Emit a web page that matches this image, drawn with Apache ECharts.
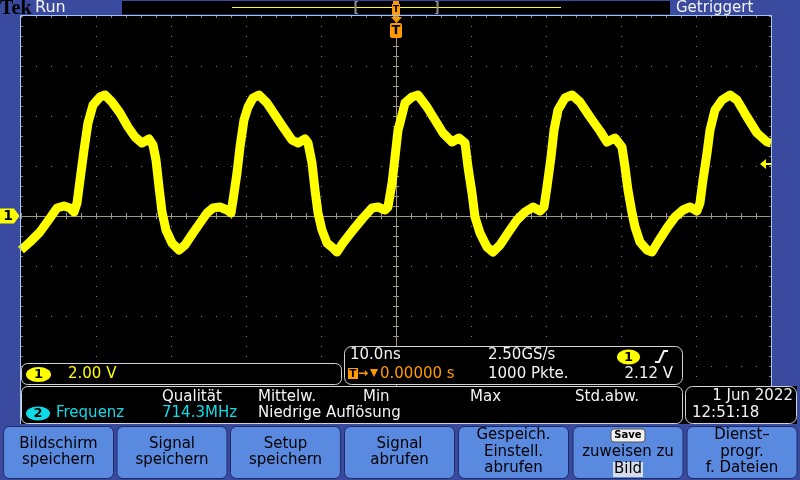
<!DOCTYPE html>
<html><head><meta charset="utf-8">
<script src="https://cdn.jsdelivr.net/npm/echarts@6/dist/echarts.min.js"></script>
<style>html,body{margin:0;padding:0;background:#3a4a9e;}#c{width:800px;height:480px;}</style>
</head><body><div id="c"></div>
<script>
const timeNs = [-50.0,-48.8,-47.47,-46.13,-45.2,-44.27,-43.47,-42.93,-42.53,-42.13,-41.6,-41.07,-40.4,-39.47,-38.8,-37.87,-36.8,-35.73,-34.8,-33.87,-32.93,-32.4,-32.0,-31.6,-31.2,-30.67,-29.87,-28.93,-28.13,-27.07,-26.13,
 -25.2,-24.4,-23.47,-22.53,-22.0,-21.73,-21.2,-20.8,-20.27,-19.73,-19.07,-18.27,-17.2,-16.13,-15.07,-13.87,-13.07,-12.13,-11.73,-11.2,-10.8,-10.4,-9.87,-9.2,-8.4,-7.87,-7.07,-5.73,-4.4,-3.2,-2.4,-1.47,-1.07,-0.53,-0.13,0.27,
 0.53,1.2,2.13,2.93,4.13,5.2,6.27,7.47,8.4,9.2,9.6,10.13,10.53,11.2,12.13,12.93,13.87,14.93,16.13,17.2,18.27,19.2,19.73,20.13,20.67,21.07,21.6,22.53,23.47,24.53,25.87,27.2,
 28.13,29.2,30.13,30.53,30.93,31.47,31.87,32.53,33.47,34.13,34.93,36.13,37.2,38.27,39.2,40.13,40.53,40.93,41.47,41.87,42.53,43.47,44.53,45.47,46.8,48.13,49.47,50.0];
const volts = [-1.36,-1.04,-0.64,-0.08,0.32,0.40,0.32,0.16,0.52,1.44,2.64,3.72,4.44,4.76,4.84,4.56,4.12,3.56,3.16,2.92,3.08,2.84,2.24,1.16,0.16,-0.56,-1.08,-1.36,-1.16,-0.68,-0.28,
 0.12,0.32,0.36,0.24,0.12,0.64,1.72,2.76,3.84,4.36,4.72,4.84,4.52,4.04,3.56,3.04,2.92,3.08,2.92,2.12,1.04,0.12,-0.56,-1.08,-1.28,-1.44,-1.08,-0.56,-0.08,0.32,0.36,0.24,0.36,1.32,2.36,3.44,
 3.72,4.52,4.76,4.84,4.36,3.84,3.32,2.96,3.12,2.92,1.96,0.92,-0.04,-0.68,-1.24,-1.44,-1.16,-0.68,-0.16,0.16,0.36,0.2,0.36,1.16,2.36,3.44,4.24,4.72,4.84,4.56,3.96,3.4,
 2.96,3.12,2.76,1.96,1.04,0.12,-0.44,-1.04,-1.36,-1.44,-1.04,-0.48,-0.04,0.24,0.36,0.2,0.52,1.44,2.52,3.44,4.24,4.64,4.84,4.64,3.96,3.32,2.96,2.92];
const xMin = -50, xMax = 50, xInterval = 10;   // 10.0 ns / div
const yMin = -8, yMax = 8, yInterval = 2;       // 2.00 V / div
const triggerLevel = 2.12;

const measHeaders = ["Qualität", "Mittelw.", "Min", "Max", "Std.abw."];
const buttonLabels = [["Bildschirm","speichern"],["Signal","speichern"],["Setup","speichern"],["Signal","abrufen"],["Gespeich.","Einstell.","abrufen"],["Save","zuweisen zu","Bild"],["Dienst–","progr.","f. Dateien"]];

// ---- styling ----
const BLUE = '#3a4a9e', BTN = '#5a89e0', LBLUE = '#a4c4fa', GRIDC = '#8a8270', CENTERC = '#a0977f';
const YEL = '#ffff00', ORG = '#ff9a00', CYAN = '#10dce8', WHITE = '#f4f4f4', PANEL = '#d4d4d4';
const F = (s, b) => (b ? 'bold ' : '') + s + 'px "DejaVu Sans"';

const G = [];
function rect(x, y, w, h, fill, stroke, r, lw) { G.push({type:'rect', z:10, shape:{x, y, width:w, height:h, r:r||0}, style:{fill:fill||null, stroke:stroke||null, lineWidth:lw||1}}); }
function txt(t, x, y, fill, font, align) { G.push({type:'text', z:10, style:{text:t, x, y, fill, font, textAlign:align||'left', textVerticalAlign:'middle'}}); }
function line(x1, y1, x2, y2, c, w) { G.push({type:'line', z:10, shape:{x1, y1, x2, y2}, style:{stroke:c, lineWidth:w||1}}); }
function poly(pts, fill) { G.push({type:'polygon', z:10, shape:{points:pts}, style:{fill}}); }
function ell(cx, cy, rx, ry, fill) { G.push({type:'ellipse', z:10, shape:{cx, cy, rx, ry}, style:{fill}}); }

// top bar
txt('Tek', 0, 8.5, '#000', 'bold 20px "Liberation Serif"');
txt('Run', 35, 8, WHITE, F(16));
rect(122, 1, 548, 13.5, '#000');
line(232, 7.5, 561, 7.5, YEL, 1.2);
line(355.5, 1, 355.5, 14, '#909090', 2); line(355, 1.5, 358, 1.5, '#909090', 1); line(355, 13.5, 358, 13.5, '#909090', 1);
line(437.5, 1, 437.5, 14, '#909090', 2); line(435, 1.5, 438, 1.5, '#909090', 1); line(435, 13.5, 438, 13.5, '#909090', 1);
rect(393, 1, 6, 4, ORG); rect(392, 4, 8, 11, ORG);
txt('T', 396, 10, '#000', F(9, true), 'center');
txt('Getriggert', 676, 8.5, WHITE, F(15));
// border of graticule
line(20.5, 15.5, 772, 15.5, LBLUE, 1);
line(20.5, 15.5, 20.5, 424, LBLUE, 1);
line(771.5, 15.5, 771.5, 386, LBLUE, 1);
// trigger position markers
poly([[391,17],[402,17],[396.5,23]], ORG);
rect(390, 23, 12, 15, ORG, null, 2);
txt('T', 396, 31, '#000', F(13, true), 'center');
// channel 1 ground marker
poly([[0,208.5],[14,208.5],[19.5,216],[14,223.5],[0,223.5]], YEL);
txt('1', 8, 216.5, '#000', F(14, true), 'center');
// trigger level arrow (right edge)
poly([[760,164],[766,159],[766,169]], YEL);
line(766, 164, 771, 164, YEL, 2);

// bottom panels
rect(21, 386, 776, 38, '#000');
rect(21.5, 363.5, 320, 21, '#000', PANEL, 6);
ell(38.5, 374.5, 12.5, 7.5, YEL); txt('1', 38.5, 375, '#000', F(13, true), 'center');
txt('2.00 V', 68, 374, YEL, F(15));
rect(344.5, 346.5, 338, 38, '#000', PANEL, 7);
txt('10.0ns', 350, 355.5, WHITE, F(15));
txt('2.50GS/s', 488, 355.5, WHITE, F(15));
ell(628.5, 357, 11.5, 7.5, YEL); txt('1', 628.5, 357.5, '#000', F(13, true), 'center');
G.push({type:'polyline', z:10, shape:{points:[[655,362],[659,362],[664,351],[668,351]]}, style:{stroke:WHITE, lineWidth:2, fill:null}});
rect(348, 368, 10, 11, ORG); txt('T', 353, 374, '#000', F(10, true), 'center');
txt('→', 358, 373.5, ORG, F(12, true));
poly([[370,369],[378,369],[374,377]], ORG);
txt('0.00000 s', 380, 374, ORG, F(15));
txt('1000 Pkte.', 488, 374, WHITE, F(15));
txt('2.12 V', 673, 374, WHITE, F(15), 'right');
rect(21.5, 386.5, 661, 37, '#000', PANEL, 6);
const measX = [162, 258, 363, 470, 575];
measHeaders.forEach((h, i) => txt(h, measX[i], 397, WHITE, F(15)));
ell(38, 413.5, 12, 7, CYAN); txt('2', 38, 414, '#000', F(13, true), 'center');
txt('Frequenz', 56, 413.5, CYAN, F(15));
txt('714.3MHz', 162, 413.5, CYAN, F(15));
txt('Niedrige Auflösung', 258, 413.5, WHITE, F(15));
rect(685.5, 386.5, 111, 37, '#000', PANEL, 7);
txt('1 Jun 2022', 793, 396.5, WHITE, F(15), 'right');
txt('12:51:18', 692, 413, WHITE, F(15));

// buttons
const btnX = [3, 116.5, 230, 344, 458, 572.5, 686.5];
buttonLabels.forEach((lab, i) => {
  const x = btnX[i], cx = x + 55.5;
  rect(x + 0.5, 426.5, 110, 52, BTN, '#1e2a66', 6);
  if (i === 5) {
    rect(cx - 17, 429, 34, 13, '#f0f0f0', '#555', 3);
    txt('Save', cx, 435.5, '#000', F(10, true), 'center');
    txt('zuweisen zu', cx, 452, '#000', F(15), 'center');
    rect(cx - 15, 462, 30, 15, '#d6dcea');
    txt('Bild', cx, 469.5, '#000', F(15), 'center');
  } else if (lab.length === 2) {
    txt(lab[0], cx, 444.5, '#000', F(15), 'center');
    txt(lab[1], cx, 460.5, '#000', F(15), 'center');
  } else {
    txt(lab[0], cx, 435.5, '#000', F(15), 'center');
    txt(lab[1], cx, 452, '#000', F(15), 'center');
    txt(lab[2], cx, 468.5, '#000', F(15), 'center');
  }
});

// ---- axes ----
const gridRect = {left: 21, top: 16, width: 750, height: 400};
const tickStyle = {color: CENTERC, width: 1};
function centerX(pos) {
  return {gridIndex:0, type:'value', min:xMin, max:xMax, interval:xInterval, position:pos,
    axisLine:{show: pos === 'bottom', onZero:true, lineStyle:{color:CENTERC, width:1}},
    axisTick:{show:true, inside:false, length:3, lineStyle:tickStyle},
    minorTick:{show:true, splitNumber:5, length:3, lineStyle:tickStyle},
    axisLabel:{show:false},
    splitLine:{show: pos === 'bottom', showMinLine:false, showMaxLine:false, lineStyle:{color:GRIDC, type:[1,9], width:1}}};
}
function centerY(pos) {
  return {gridIndex:0, type:'value', min:yMin, max:yMax, interval:yInterval, position:pos,
    axisLine:{show: pos === 'left', onZero:true, lineStyle:{color:CENTERC, width:1}},
    axisTick:{show:true, inside:false, length:3, lineStyle:tickStyle},
    minorTick:{show:true, splitNumber:5, length:3, lineStyle:tickStyle},
    axisLabel:{show:false},
    splitLine:{show: pos === 'left', showMinLine:false, showMaxLine:false, lineStyle:{color:GRIDC, type:[1,14], width:1}}};
}
function edgeX(pos) {
  return {gridIndex:1, type:'value', min:xMin, max:xMax, interval:xInterval, position:pos,
    axisLine:{show:false, onZero:false}, axisTick:{show:true, inside:true, length:2, lineStyle:{color:GRIDC}},
    minorTick:{show:true, splitNumber:5, length:2, lineStyle:{color:GRIDC}}, axisLabel:{show:false}, splitLine:{show:false}};
}
function edgeY(pos) {
  return {gridIndex:1, type:'value', min:yMin, max:yMax, interval:yInterval, position:pos,
    axisLine:{show:false, onZero:false}, axisTick:{show:true, inside:true, length:2, lineStyle:{color:GRIDC}},
    minorTick:{show:true, splitNumber:5, length:2, lineStyle:{color:GRIDC}}, axisLabel:{show:false}, splitLine:{show:false}};
}

const chart = echarts.init(document.getElementById('c'), null, {renderer:'canvas'});
chart.setOption({
  animation: false,
  backgroundColor: BLUE,
  grid: [
    Object.assign({show:true, backgroundColor:'#000', borderWidth:0}, gridRect),
    Object.assign({show:false}, gridRect)
  ],
  xAxis: [centerX('bottom'), centerX('top'), edgeX('bottom'), edgeX('top')],
  yAxis: [centerY('left'), centerY('right'), edgeY('left'), edgeY('right')],
  series: [{
    type:'line', xAxisIndex:0, yAxisIndex:0, z:5,
    data: timeNs.map((t, i) => [t, volts[i]]),
    showSymbol:false, clip:true, smooth:false,
    lineStyle:{color:YEL, width:9, join:'round', cap:'butt'}
  }],
  graphic: G
});
</script></body></html>
